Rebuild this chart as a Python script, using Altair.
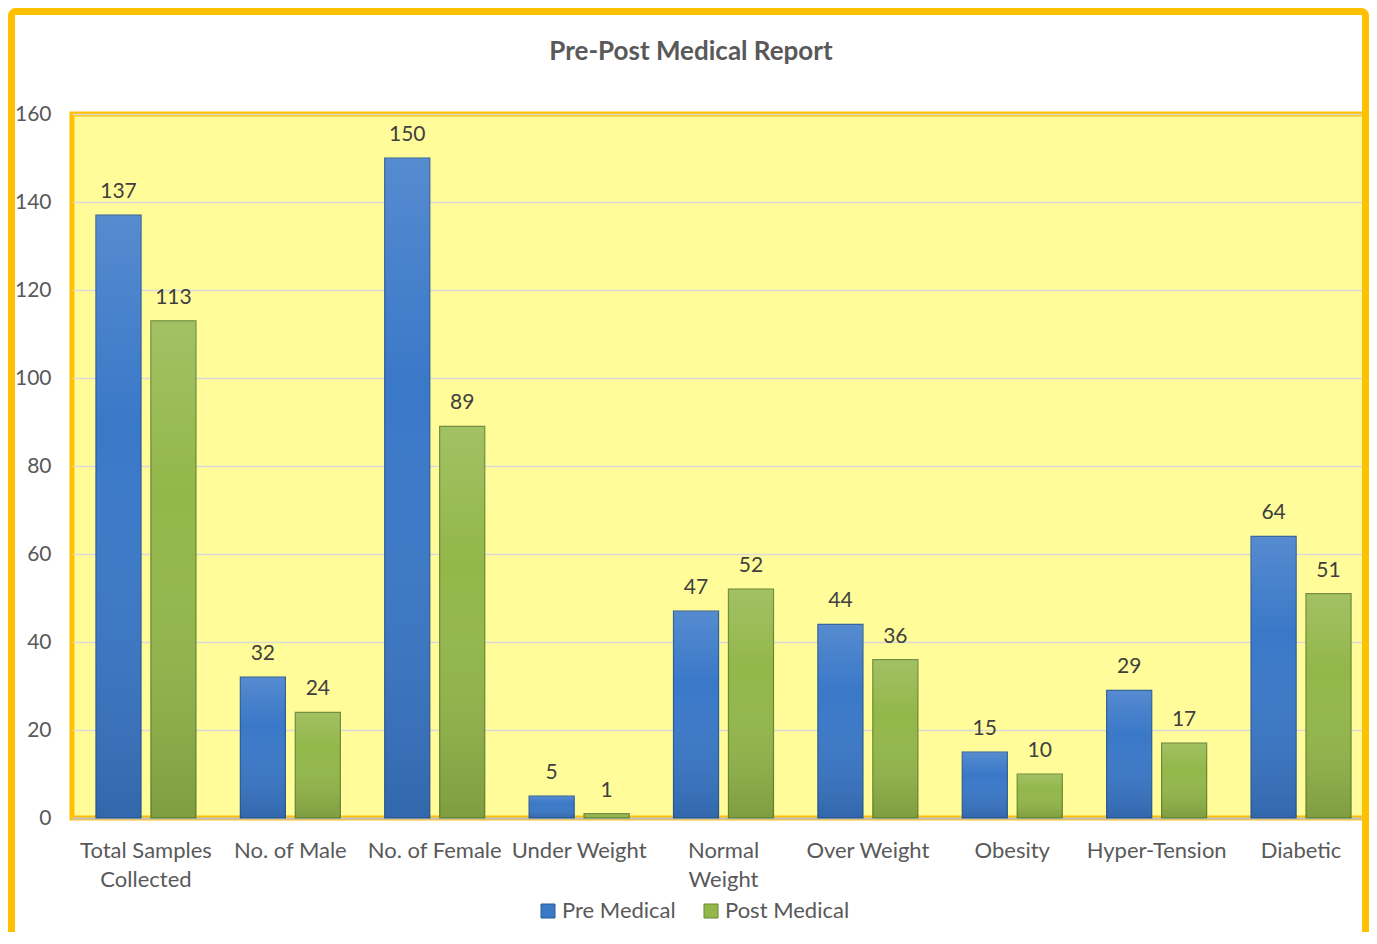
import altair as alt
import pandas as pd

categories = ["Total Samples Collected", "No. of Male", "No. of Female", "Under Weight",
              "Normal Weight", "Over Weight", "Obesity", "Hyper-Tension", "Diabetic"]
series = ["Pre Medical", "Post Medical"]
pre_medical = [137, 32, 150, 5, 47, 44, 15, 29, 64]
post_medical = [113, 24, 89, 1, 52, 36, 10, 17, 51]
y_ticks = [0, 20, 40, 60, 80, 100, 120, 140, 160]
title_text = "Pre-Post Medical Report"

rows = []
for c, a, b in zip(categories, pre_medical, post_medical):
    rows.append({"cat": c, "series": series[0], "value": a})
    rows.append({"cat": c, "series": series[1], "value": b})
df = pd.DataFrame(rows)

FONT = "Lato"
W, H = 1295, 704
GOLD = "#FFC000"

x_enc = alt.X("cat:N", sort=categories,
              scale=alt.Scale(paddingInner=0.3075, paddingOuter=0.166, range=[0, 1303]),
              axis=alt.Axis(title=None, labelAngle=0, labelFontSize=22, labelFont=FONT,
                            labelColor="#595959", labelPadding=22, labelLineHeight=29,
                            labelBaseline="top", labelOverlap=False, labelLimit=300,
                            ticks=False, domain=True, domainColor="#BFBFBF", domainWidth=2,
                            grid=False,
                            labelExpr="datum.label == 'Total Samples Collected' ? ['Total Samples', 'Collected'] : datum.label == 'Normal Weight' ? ['Normal', 'Weight'] : datum.label"))
xo_enc = alt.XOffset("series:N", sort=series, scale=alt.Scale(paddingInner=0.18))
y_enc = alt.Y("value:Q", scale=alt.Scale(domain=[0, 160], nice=False),
              axis=alt.Axis(title=None, values=y_ticks, labelFontSize=21, labelFont=FONT,
                            labelColor="#595959", labelPadding=21, ticks=False, domain=False,
                            grid=True, gridColor="#D9D9D9", gridWidth=1.5))

base = alt.Chart(df).encode(x=x_enc, xOffset=xo_enc, y=y_enc)

bars = base.mark_bar(strokeWidth=1.2).encode(
    color=alt.Color("series:N", sort=series,
                    scale=alt.Scale(domain=series, range=["#3A78C8", "#93B74A"]),
                    legend=alt.Legend(title=None, orient="none", legendX=465, legendY=786,
                                      direction="horizontal", symbolType="square",
                                      symbolSize=196, symbolStrokeWidth=1,
                                      labelFontSize=22, labelFont=FONT, labelColor="#595959",
                                      labelOffset=3, columnPadding=24)),
    stroke=alt.Stroke("series:N", sort=series,
                      scale=alt.Scale(domain=series, range=["#2B5A96", "#6A8634"]),
                      legend=None),
)

shade = base.mark_bar(color=alt.Gradient(
    gradient="linear", x1=0, x2=0, y1=0, y2=1,
    stops=[alt.GradientStop(color="rgba(255,255,255,0.14)", offset=0),
           alt.GradientStop(color="rgba(255,255,255,0.0)", offset=0.35),
           alt.GradientStop(color="rgba(0,0,0,0.14)", offset=1)]))

labels = base.mark_text(baseline="bottom", dy=-13, fontSize=21, font=FONT,
                        color="#404040").encode(text="value:Q")

one = pd.DataFrame({"k": [0]})
frame = alt.Chart(one).mark_rect(
    fill="transparent", stroke=GOLD, strokeWidth=7, cornerRadius=4
).encode(x=alt.value(-60.5), x2=alt.value(1293.5), y=alt.value(-102.5), y2=alt.value(H + 200))

title = alt.Chart(one).mark_text(
    fontSize=26, font=FONT, fontWeight="bold", color="#595959", baseline="middle", align="center"
).encode(x=alt.value(619), y=alt.value(-62), text=alt.value(title_text))

chart = alt.layer(frame, title, bars, shade, labels).properties(
    width=W, height=H,
    autosize=alt.AutoSizeParams(type="none"),
    padding={"left": 64, "top": 106, "right": 2, "bottom": 114},
    background="white",
).configure_view(fill="#FFFC99", stroke=GOLD, strokeWidth=5)

chart.save("out.html", embed_options={"renderer": "svg", "actions": False})
